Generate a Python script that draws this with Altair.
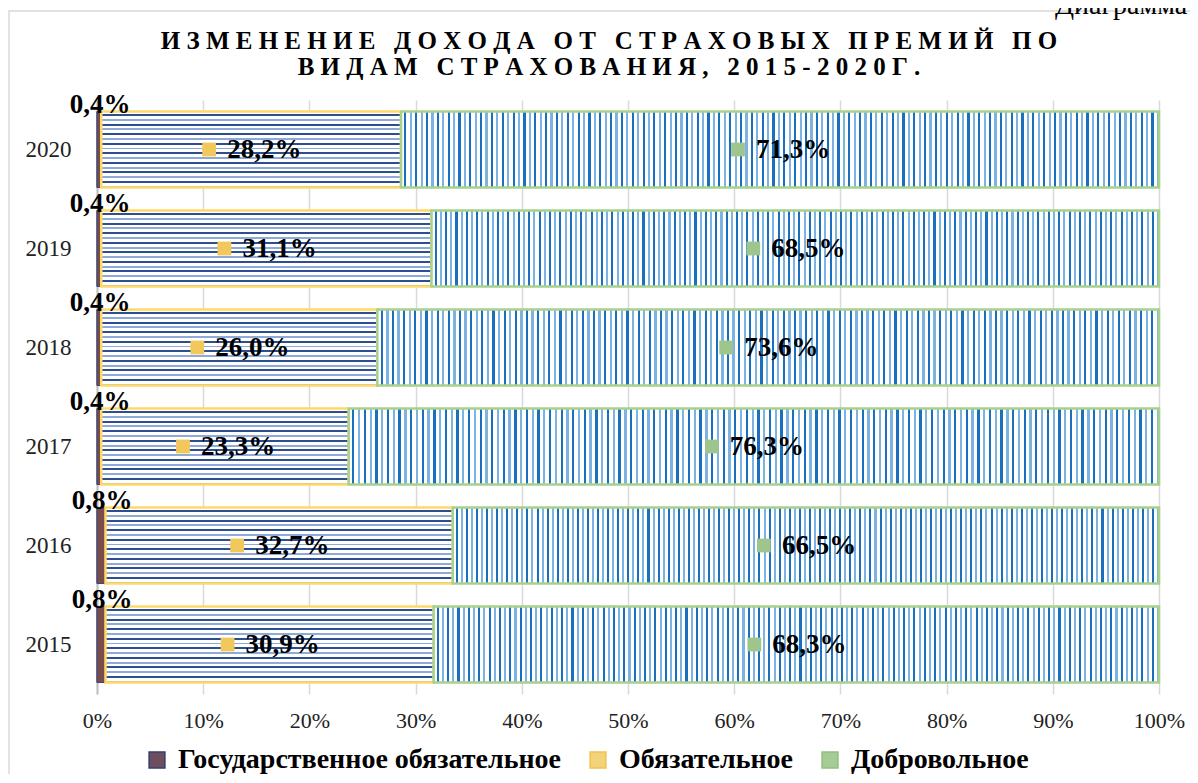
import altair as alt
import pandas as pd

# ---- data ----
years = ["2015", "2016", "2017", "2018", "2019", "2020"]
gos = [0.8, 0.8, 0.4, 0.4, 0.4, 0.4]
obyaz = [30.9, 32.7, 23.3, 26.0, 31.1, 28.2]
dobr = [68.3, 66.5, 76.3, 73.6, 68.5, 71.3]
types = ["Государственное обязательное", "Обязательное", "Добровольное"]
title_lines = ["ИЗМЕНЕНИЕ ДОХОДА ОТ СТРАХОВЫХ ПРЕМИЙ ПО", "ВИДАМ СТРАХОВАНИЯ, 2015-2020Г."]
corner_text = "Диаграмма"
x_ticks = [0, 0.1, 0.2, 0.3, 0.4, 0.5, 0.6, 0.7, 0.8, 0.9, 1.0]

rows = []
for i, y in enumerate(years):
    for k, (t, vals) in enumerate(zip(types, [gos, obyaz, dobr])):
        v = vals[i]
        rows.append({"year": y, "type": t, "order": k, "value": v,
                     "label": f"{v:.1f}".replace(".", ",") + "%"})
df = pd.DataFrame(rows)

FONT = "Liberation Serif"
W, H = 1062, 594
G, O, D = types

# ---- stripe fills (styling) ----
def stripes(n, horizontal, c1, c2, frac=0.58):
    stops = []
    for i in range(n):
        a = round(i / n, 5)
        b = round((i + frac) / n, 5)
        c = round((i + 1) / n, 5)
        col = c1 if i % 2 == 0 else c2
        stops += [{"offset": a, "color": "#ffffff"}, {"offset": b, "color": "#ffffff"},
                  {"offset": b, "color": col}, {"offset": c, "color": col}]
    g = {"gradient": "linear", "stops": stops, "x1": 0, "y1": 0}
    if horizontal:
        g.update({"x2": 0, "y2": 1})
    else:
        g.update({"x2": 1, "y2": 0})
    return g

grad_obyaz = stripes(16, True, "#2E4F8F", "#8FA9D8")
grad_dobr = stripes(140, False, "#1A6FBF", "#7DB3E3", frac=0.6)

base = alt.Chart(df).transform_stack(
    stack="value", groupby=["year"], sort=[alt.SortField("order")],
    as_=["x0", "x1"], offset="normalize"
).transform_calculate(mid="(datum.x0 + datum.x1) / 2")

Y_AX = alt.Axis(labelFont=FONT, labelFontSize=23, labelColor="#222",
                ticks=False, tickSize=0, labelPadding=26, domain=True,
                domainColor="#BFBFBF", domainWidth=2, grid=False, title=None)
X_AX = alt.Axis(format=".0%", values=x_ticks, labelFlush=False,
                labelFont=FONT, labelFontSize=22, labelColor="#222",
                ticks=False, tickSize=0, domain=False, labelPadding=16,
                grid=True, gridColor="#D9D9D9", gridWidth=1.5, title=None)
yscale = alt.Scale(paddingInner=0.232, paddingOuter=0.116)
xscale = alt.Scale(domain=[0, 1], nice=False)

def Yenc():
    return alt.Y("year:O", sort="descending", scale=yscale, axis=Y_AX, title=None)

def Xenc(f):
    return alt.X(f, scale=xscale, axis=X_AX, title=None)

LEG = dict(orient="none", legendX=46, legendY=646, direction="horizontal",
           title=None, labelFont=FONT, labelFontSize=28, labelLimit=0,
           labelFontWeight="bold", labelColor="#000",
           symbolType="square", symbolSize=250, symbolStrokeWidth=1.5,
           labelOffset=7, columnPadding=22)

bars_base = base.mark_bar().encode(
    y=Yenc(),
    x=Xenc("x0:Q"),
    x2="x1:Q",
    fill=alt.Fill("type:N", scale=alt.Scale(domain=types, range=["#6E4E5E", "#F3D37A", "#A6CC96"]),
                  legend=alt.Legend(**LEG)),
    stroke=alt.Stroke("type:N", scale=alt.Scale(domain=types, range=["#2F3F6F", "#F2C14E", "#8CBF78"]),
                      legend=alt.Legend(**LEG)),
    order=alt.Order("order:Q"),
)

bars_over = base.mark_bar().encode(
    y=Yenc(),
    x=Xenc("x0:Q"),
    x2="x1:Q",
    fill=alt.when(alt.datum.type == O).then(alt.value(grad_obyaz))
            .when(alt.datum.type == D).then(alt.value(grad_dobr))
            .otherwise(alt.value("#7B4B4B")),
    stroke=alt.when(alt.datum.type == O).then(alt.value("#FFD966"))
              .when(alt.datum.type == D).then(alt.value("#A9D18E"))
              .otherwise(alt.value("#3A4A7A")),
    strokeWidth=alt.when(alt.datum.type == G).then(alt.value(1)).otherwise(alt.value(2.5)),
    order=alt.Order("order:Q"),
)

main_labels = base.transform_filter(alt.datum.type != G).mark_text(
    align="left", baseline="middle", dx=-24, font=FONT, fontSize=27,
    fontWeight="bold", color="#000"
).encode(y=Yenc(), x=Xenc("mid:Q"), text="label:N")

markers = base.transform_filter(alt.datum.type != G).mark_point(
    shape="square", filled=True, size=190, xOffset=-42, opacity=1, strokeWidth=0
).encode(
    y=Yenc(), x=Xenc("mid:Q"),
    fill=alt.when(alt.datum.type == O).then(alt.value("#F2C75C")).otherwise(alt.value("#9DC58C")),
)

gos_labels = base.transform_filter(alt.datum.type == G).mark_text(
    align="center", baseline="middle", dx=1, dy=-45, font=FONT, fontSize=27,
    fontWeight="bold", color="#000"
).encode(y=Yenc(), x=Xenc("mid:Q"), text="label:N")

sp = "\u2005"
def spaced(s):
    return (sp + " " + sp).join(sp.join(list(w)) for w in s.split(" "))

title_df = pd.DataFrame({"t": ["\n".join(spaced(l) for l in title_lines)]})
title = alt.Chart(title_df).mark_text(
    align="center", baseline="middle", lineBreak="\n", lineHeight=26,
    font=FONT, fontSize=25, fontWeight="bold", color="#000"
).encode(x=alt.value(512), y=alt.value(-59), text="t:N")

corner = alt.Chart(pd.DataFrame({"t": [corner_text]})).mark_text(
    align="left", baseline="alphabetic", font=FONT, fontSize=28, color="#000"
).encode(x=alt.value(958), y=alt.value(-86), text="t:N")

border = alt.Chart(pd.DataFrame({"a": [0]})).mark_rect(
    fillOpacity=0, stroke="#D9D9D9", strokeWidth=1.5
).encode(x=alt.value(-88), x2=alt.value(W + 300), y=alt.value(-89), y2=alt.value(H + 300))

chart = alt.layer(border, bars_base, bars_over, markers, main_labels, gos_labels, title, corner).properties(
    width=W, height=H,
    padding={"left": 89, "top": 92, "right": 31, "bottom": 80},
    autosize=alt.AutoSizeParams(type="none"),
    background="white",
).configure_view(stroke=None)

chart.save("out.html", embed_options={"renderer": "svg", "actions": False})
